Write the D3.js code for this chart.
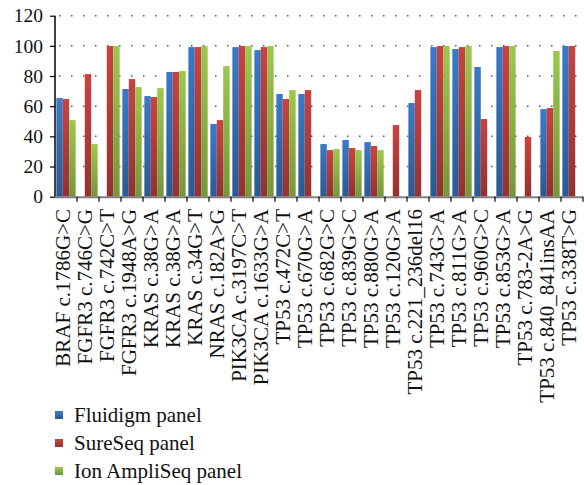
<!DOCTYPE html>
<html>
<head>
<meta charset="utf-8">
<script src="https://cdn.jsdelivr.net/npm/d3@7"></script>
<style>
html,body{margin:0;padding:0;background:#fff;}
svg{display:block;}
text{font-family:"Liberation Serif","Times New Roman",serif;fill:#111;}
</style>
</head>
<body>
<svg id="chart" width="584" height="485"></svg>
<script>
const categories = [
  "BRAF c.1786G>C","FGFR3 c.746C>G","FGFR3 c.742C>T","FGFR3 c.1948A>G",
  "KRAS c.38G>A","KRAS c.38G>A","KRAS c.34G>T","NRAS c.182A>G",
  "PIK3CA c.3197C>T","PIK3CA c.1633G>A","TP53 c.472C>T","TP53 c.670G>A",
  "TP53 c.682G>C","TP53 c.839G>C","TP53 c.880G>A","TP53 c.120G>A",
  "TP53 c.221_236del16","TP53 c.743G>A","TP53 c.811G>A","TP53 c.960G>C",
  "TP53 c.853G>A","TP53 c.783-2A>G","TP53 c.840_841insAA","TP53 c.338T>G"
];
const seriesNames = ["Fluidigm panel","SureSeq panel","Ion AmpliSeq panel"];
const fluidigm = [65.4,null,null,71.4,66.7,82.7,99.2,48.2,99.2,97.2,68.1,68.1,34.9,37.6,36.2,null,62.1,99.2,97.9,86,99.2,null,58.1,99.9];
const sureseq  = [64.8,81.3,99.9,78,66.1,82.7,99.2,50.8,99.9,99.2,64.8,70.7,30.9,32.3,33.6,47.5,70.7,99.9,99.2,51.5,99.9,39.6,58.8,99.9];
const ampliseq = [50.8,34.9,99.9,72.7,72,83.3,99.9,86.6,99.9,99.9,70.7,null,31.6,30.9,30.9,null,null,99.9,99.9,null,99.9,null,96.6,null];
const yTicks = [0,20,40,60,80,100,120];

const series = [fluidigm, sureseq, ampliseq];
const colors = [
  {top:"#3b7ac7", bottom:"#2b5993"},
  {top:"#ca4340", bottom:"#943130"},
  {top:"#9dc84e", bottom:"#74963a"}
];

const svg = d3.select("#chart");
const mLeft = 55, mRight = 583, mTop = 15.7, mBottom = 196.7;

const defs = svg.append("defs");
colors.forEach((c,i)=>{
  const g = defs.append("linearGradient").attr("id","g"+i)
    .attr("x1",0).attr("y1",0).attr("x2",0).attr("y2",1);
  g.append("stop").attr("offset","0%").attr("stop-color",c.top);
  g.append("stop").attr("offset","100%").attr("stop-color",c.bottom);
});

const x = d3.scaleBand().domain(categories.map((d,i)=>i)).range([mLeft,mRight]).paddingInner(0).paddingOuter(0);
const xInner = d3.scaleBand().domain([0,1,2]).range([0,x.bandwidth()]).paddingOuter(0.21).paddingInner(0);
const y = d3.scaleLinear().domain([0,120]).range([mBottom,mTop]);

// gridlines (dotted)
svg.append("g").selectAll("line").data(yTicks.filter(t=>t>0)).join("line")
  .attr("x1",mLeft+4).attr("x2",mRight)
  .attr("y1",d=>y(d)).attr("y2",d=>y(d))
  .attr("stroke","#555").attr("stroke-width",1.5)
  .attr("stroke-dasharray","1.5,10.5");

// bars
const groups = svg.append("g").selectAll("g").data(series).join("g")
  .attr("fill",(d,i)=>`url(#g${i})`);
groups.each(function(vals,si){
  d3.select(this).selectAll("rect")
    .data(vals.map((v,ci)=>({v,ci})).filter(d=>d.v!=null))
    .join("rect")
    .attr("x",d=>x(d.ci)+xInner(si))
    .attr("width",xInner.bandwidth())
    .attr("y",d=>y(d.v))
    .attr("height",d=>mBottom-y(d.v));
});

// y axis
const yAxis = svg.append("g").attr("transform",`translate(${mLeft},0)`)
  .call(d3.axisLeft(y).tickValues(yTicks).tickSize(5).tickPadding(7));
yAxis.select(".domain").attr("stroke","#000").attr("stroke-width",1.5).attr("d",`M0,${mTop}V${mBottom}`);
yAxis.selectAll(".tick line").attr("stroke","#000").attr("stroke-width",1.2);
yAxis.selectAll(".tick text").style("font-size","19.5px").attr("fill","#111")
  .style("font-family","Liberation Serif, serif");

// x axis line
svg.append("line").attr("x1",mLeft).attr("x2",mRight).attr("y1",mBottom+0.5).attr("y2",mBottom+0.5)
  .attr("stroke","#808080").attr("stroke-width",2);
// x ticks at boundaries
const bounds = d3.range(categories.length+1).map(i=> i<categories.length ? x(i) : mRight);
svg.append("g").selectAll("line").data(bounds.slice(1)).join("line")
  .attr("x1",d=>d).attr("x2",d=>d).attr("y1",mBottom).attr("y2",mBottom+5)
  .attr("stroke","#000").attr("stroke-width",1.2);

// x labels
svg.append("g").selectAll("text").data(categories).join("text")
  .attr("transform",(d,i)=>`translate(${x(i)+x.bandwidth()/2+4},209) rotate(-90)`)
  .attr("text-anchor","end")
  .style("font-size","21px")
  .text(d=>d);

// legend
const lg = svg.append("g").selectAll("g").data(seriesNames).join("g")
  .attr("transform",(d,i)=>`translate(55,${415+i*28})`);
lg.append("rect").attr("x",0).attr("y",-4).attr("width",8).attr("height",8)
  .attr("fill",(d,i)=>`url(#g${i})`);
lg.append("text").attr("x",19).attr("y",7).style("font-size","21px").text(d=>d);
</script>
</body>
</html>
